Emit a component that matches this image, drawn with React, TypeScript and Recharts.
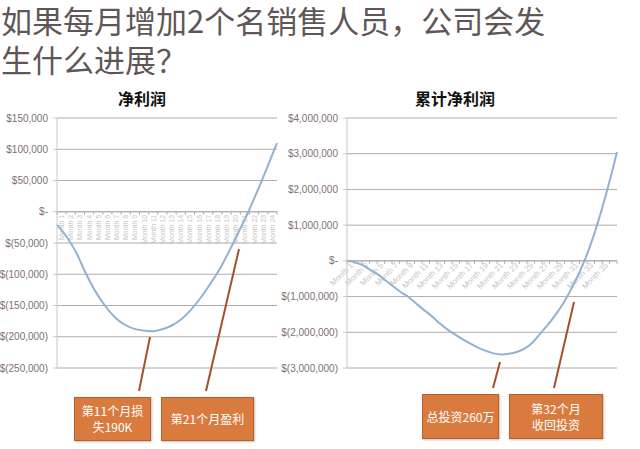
import { CartesianGrid, Line, LineChart, ReferenceLine, XAxis, YAxis } from "recharts";

const monthsShort = Array.from({ length: 24 }, (_, i) => `Month ${i + 1}`);
const monthsLong = Array.from({ length: 36 }, (_, i) => `Month ${i + 1}`);

// 净利润 (monthly net profit)
const netProfit = [
  -21000, -40000, -65000, -98000, -127000, -150000, -168000, -180000, -187000, -190000, -191000, -188000,
  -182000, -172000, -157000, -138000, -116000, -92000, -63000, -32000, 0, 35000, 72000, 110000,
];

// 累计净利润 (cumulative net profit)
const cumulativeProfit = [
  0, -40000, -120000, -250000, -380000, -550000, -720000, -880000, -1020000, -1200000, -1380000, -1550000,
  -1750000, -1920000, -2060000, -2200000, -2320000, -2430000, -2520000, -2590000, -2620000, -2600000, -2550000, -2460000,
  -2300000, -2050000, -1800000, -1520000, -1200000, -820000, -380000, 120000, 720000, 1420000, 2200000, 3050000,
];

const ticksLeft = [150000, 100000, 50000, 0, -50000, -100000, -150000, -200000, -250000];
const ticksRight = [4000000, 3000000, 2000000, 1000000, 0, -1000000, -2000000, -3000000];

const titleLines = ["如果每月增加2个名销售人员，公司会发", "生什么进展？"];

const dataLeft = monthsShort.map((m, i) => ({ month: m, value: netProfit[i] }));
const dataRight = monthsLong.map((m, i) => ({ month: m, value: cumulativeProfit[i] }));

const money = (v: number) => {
  if (v === 0) return "$-";
  const s = Math.abs(v).toLocaleString("en-US");
  return v < 0 ? `$(${s})` : `$${s}`;
};

const CJK = '"Noto Sans CJK SC", "Noto Sans", sans-serif';
const LINE = "#93b2cf";
const GRID = "#adadad";

// category axis drawn on the zero line, positions taken from the reference line's ends
function zeroAxis(cats: string[], rotate: number, every: number, fontSize: number) {
  return (p: any) => {
    const { x1, y1, x2 } = p;
    const band = (x2 - x1) / cats.length;
    return (
      <g>
        <line x1={x1} y1={y1} x2={x2} y2={y1} stroke={GRID} strokeWidth={1} />
        {cats.map((_, i) => (
          <line key={`t${i}`} x1={x1 + i * band} y1={y1} x2={x1 + i * band} y2={y1 + 3} stroke={GRID} />
        ))}
        <line x1={x2} y1={y1} x2={x2} y2={y1 + 3} stroke={GRID} />
        {cats.map((c, i) => {
          if (i % every !== 0) return null;
          const cx = x1 + (i + 0.5) * band;
          const tx = rotate === -90 ? cx + 2.5 : cx + 3;
          const ty = y1 + (rotate === -90 ? 3 : 5);
          return (
            <text
              key={c}
              x={0}
              y={0}
              transform={`translate(${tx},${ty}) rotate(${rotate})`}
              textAnchor="end"
              fontSize={fontSize}
              fill="#c6c6c6"
              fontFamily="Liberation Sans, Arial, sans-serif"
            >
              {c}
            </text>
          );
        })}
      </g>
    );
  };
}

const yTick = { fontSize: 10, fill: "#7d7171", fontFamily: "Liberation Sans, Arial, sans-serif" };

const boxStyle = (left: number, top: number, width: number, height: number): React.CSSProperties => ({
  position: "absolute",
  left,
  top,
  width,
  height,
  boxSizing: "border-box",
  background: "#d97b3f",
  border: "1.5px solid #b65f2b",
  boxShadow: "1px 1px 2px rgba(0,0,0,0.25)",
  color: "#fff",
  fontFamily: CJK,
  fontSize: 12,
  lineHeight: "16px",
  display: "flex",
  alignItems: "center",
  justifyContent: "center",
  textAlign: "center",
});

const titleStyle = (top: number): React.CSSProperties => ({
  position: "absolute",
  left: 1,
  top,
  fontFamily: CJK,
  fontSize: 31,
  lineHeight: "34px",
  color: "#5f5757",
  whiteSpace: "nowrap",
});

export default function App() {
  return (
    <div style={{ position: "absolute", left: 0, top: 0, width: 640, height: 449, background: "#fff", overflow: "hidden" }}>
      <div style={titleStyle(3)}>{titleLines[0]}</div>
      <div style={titleStyle(42)}>{titleLines[1]}</div>

      <div style={{ position: "absolute", left: 92, top: 86, width: 100, textAlign: "center", fontFamily: CJK, fontWeight: 700, fontSize: 16, color: "#111" }}>
        净利润
      </div>
      <div style={{ position: "absolute", left: 395, top: 86, width: 120, textAlign: "center", fontFamily: CJK, fontWeight: 700, fontSize: 16, color: "#111" }}>
        累计净利润
      </div>

      <div style={{ position: "absolute", left: 0, top: 0 }}>
        <LineChart width={290} height={449} data={dataLeft} margin={{ top: 118, right: 13, bottom: 81, left: 0 }}>
          <CartesianGrid vertical={false} stroke={GRID} />
          <XAxis dataKey="month" hide />
          <YAxis
            width={57}
            domain={[-250000, 150000]}
            ticks={ticksLeft}
            tickFormatter={money}
            tick={yTick}
            tickSize={4}
            tickMargin={5}
            stroke="#c8c8c8"
            interval={0}
          />
          <ReferenceLine y={0} shape={zeroAxis(monthsShort, -90, 1, 7)} />
          <Line type="monotone" dataKey="value" stroke={LINE} strokeWidth={2} dot={false} isAnimationActive={false} />
        </LineChart>
      </div>

      <div style={{ position: "absolute", left: 280, top: 0 }}>
        <LineChart width={360} height={449} data={dataRight} margin={{ top: 118, right: 23, bottom: 81, left: 0 }}>
          <CartesianGrid vertical={false} stroke={GRID} />
          <XAxis dataKey="month" hide />
          <YAxis
            width={67}
            domain={[-3000000, 4000000]}
            ticks={ticksRight}
            tickFormatter={money}
            tick={yTick}
            tickSize={4}
            tickMargin={5}
            stroke="#c8c8c8"
            interval={0}
          />
          <ReferenceLine y={0} shape={zeroAxis(monthsLong, -45, 2, 8)} />
          <Line type="monotone" dataKey="value" stroke={LINE} strokeWidth={2} dot={false} isAnimationActive={false} />
        </LineChart>
      </div>

      <svg width={640} height={449} style={{ position: "absolute", left: 0, top: 0, pointerEvents: "none" }}>
        <g stroke="#a4512a" strokeWidth={2}>
          <line x1={139} y1={391} x2={150} y2={337} />
          <line x1={206} y1={391} x2={239} y2={249} />
          <line x1={493} y1={388} x2={500} y2={362} />
          <line x1={554} y1={388} x2={574} y2={302} />
        </g>
      </svg>

      <div style={boxStyle(74, 397, 77, 44)}>
        第11个月损
        <br />
        失190K
      </div>
      <div style={boxStyle(161, 397, 93, 44)}>第21个月盈利</div>
      <div style={boxStyle(422, 394, 77, 45)}>总投资260万</div>
      <div style={boxStyle(509, 394, 94, 45)}>
        第32个月
        <br />
        收回投资
      </div>
    </div>
  );
}
